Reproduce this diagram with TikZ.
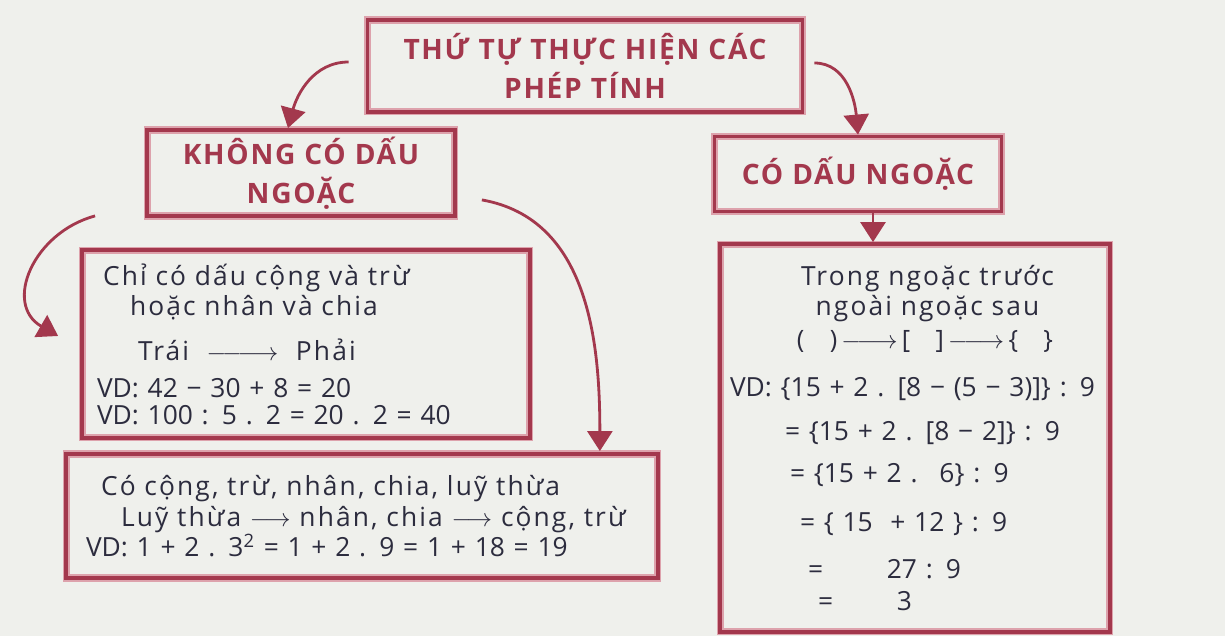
\documentclass[tikz,border=0pt]{standalone}
\usepackage{fontspec}
\setmainfont{Open Sans}
\newfontfamily\headfont[LetterSpace=6]{Open Sans}
\newfontfamily\handfont[LetterSpace=8, WordSpace=2]{Open Sans}
\usepackage{xcolor}
\usetikzlibrary{positioning, arrows.meta}
\definecolor{markerred}{HTML}{A3384D}
\definecolor{markerpink}{HTML}{DDA2AC}
\definecolor{inkblue}{HTML}{2C2C3E}
\definecolor{paper}{HTML}{EFF0EC}

\begin{document}
\begin{tikzpicture}[x=0.02cm, y=0.02cm,
  box/.style={draw=markerred, line width=2.2pt, preaction={draw=markerpink, line width=4pt},
    inner xsep=0.2cm, inner ysep=0pt, align=left, text=inkblue,
    font=\fontsize{15}{17}\selectfont},
  headbox/.style={box, align=center, text=markerred,
    font=\headfont\bfseries\fontsize{16}{22}\selectfont},
  link/.style={-{Triangle[length=4mm, width=5mm]}, markerred, line width=1.6pt}]
  \fill[paper] (0,0) rectangle (1225,636);
  \useasboundingbox (0,0) rectangle (1225,636);

  \node[headbox, minimum width=8.7cm, minimum height=1.84cm] (title) at (585,570)
    {THỨ TỰ THỰC HIỆN CÁC\\PHÉP TÍNH};
  \node[headbox, minimum width=6.16cm, minimum height=1.72cm] (kd) at (301,463)
    {KHÔNG CÓ DẤU\\NGOẶC};
  \node[headbox, minimum width=5.74cm, minimum height=1.5cm] (cd) at (858,462)
    {CÓ DẤU NGOẶC};

  \node[box, text width=8.56cm, minimum height=3.76cm] (box1) at (306,292)
    {\hspace*{0.22cm}{\handfont Chỉ có dấu cộng và trừ}\\
     \hspace*{0.76cm}{\handfont hoặc nhân và chia}\\[9pt]
     \hspace*{0.92cm}{\handfont Trái} \ $\relbar\joinrel\relbar\joinrel\longrightarrow$ \ {\handfont Phải}\\[4pt]
     \hspace*{0.1cm}VD: 42 − 30 + 8 = 20\\[-2pt]
     \hspace*{0.1cm}VD: 100 : 5 . 2 = 20 . 2 = 40};
  \node[box, text width=11.44cm, minimum height=2.48cm] (box2) at (362,120)
    {\hspace*{0.5cm}{\handfont Có cộng, trừ, nhân, chia, luỹ thừa}\\[1pt]
     \hspace*{0.9cm}{\handfont Luỹ thừa} $\longrightarrow$ {\handfont nhân, chia} $\longrightarrow$ {\handfont cộng, trừ}\\
     \hspace*{0.2cm}VD: 1 + 2 . 3\textsuperscript{2} = 1 + 2 . 9 = 1 + 18 = 19};

  \node[box, text width=7.4cm, minimum height=7.76cm] (rbox) at (915,198)
    {\makebox[\linewidth]{\hspace*{0.5cm}\handfont Trong ngoặc trước}\\
     \makebox[\linewidth]{\hspace*{0.5cm}\handfont ngoài ngoặc sau}\\[2pt]
     \makebox[\linewidth]{\hspace*{0.4cm}\Large(\quad)\,$\relbar\joinrel\longrightarrow$\,[\quad]\,$\relbar\joinrel\longrightarrow$\,\{\quad\}}\\[10pt]
     VD: \{15 + 2 . [8 − (5 − 3)]\} : 9\\[8pt]
     \hspace*{1.1cm}= \{15 + 2 . [8 − 2]\} : 9\\[7pt]
     \hspace*{1.2cm}= \{15 + 2 . \ 6\} : 9\\[11pt]
     \hspace*{1.4cm}= \{ 15 \ + 12 \} : 9\\[10pt]
     \hspace*{1.56cm}= \hspace{1.1cm}27 : 9\\[1pt]
     \hspace*{1.76cm}= \hspace{1.1cm}3};

  \draw[link] ([shift={(-17,4)}]title.west) to[out=180, in=75] ([shift={(-13,0)}]kd.north);
  \draw[link] ([shift={(10,3)}]title.east) to[out=0, in=95] (cd.north);
  \draw[link] ([shift={(-50,2)}]kd.south west) to[out=195, in=150, looseness=1.3]
    ([shift={(-22,8)}]box1.west);
  \draw[link] ([shift={(25,18)}]kd.south east) to[out=-10, in=90] ([shift={(-60,1)}]box2.north east);
  \draw[link] ([shift={(15,0)}]cd.south) -- ([shift={(15,0)}]cd.south |- rbox.north);
\end{tikzpicture}
\end{document}
